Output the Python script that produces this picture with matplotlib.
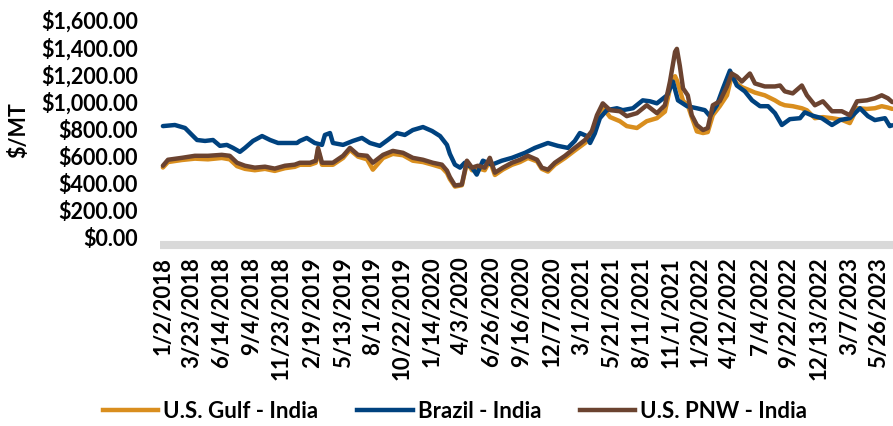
import matplotlib
matplotlib.use("Agg")
import matplotlib.pyplot as plt
import pandas as pd
from matplotlib.lines import Line2D

plt.rcParams["font.family"] = ["Lato", "DejaVu Sans"]
plt.rcParams["font.weight"] = "bold"

# ---------------- data ----------------
series_names = ["U.S. Gulf - India", "Brazil - India", "U.S. PNW - India"]

us_dates = [
    "2018-01-02", "2018-01-16", "2018-02-23", "2018-03-31", "2018-05-06", "2018-06-13",
    "2018-07-05", "2018-07-25", "2018-08-16", "2018-09-12", "2018-10-10", "2018-11-06",
    "2018-12-04", "2018-12-31", "2019-01-14", "2019-02-11", "2019-02-27", "2019-03-05",
    "2019-03-16", "2019-04-15", "2019-05-13", "2019-06-01", "2019-06-23", "2019-07-18",
    "2019-08-03", "2019-08-31", "2019-09-27", "2019-10-25", "2019-11-21", "2019-12-19",
    "2020-01-15", "2020-02-09", "2020-02-23", "2020-03-02", "2020-03-16", "2020-04-04",
    "2020-04-18", "2020-05-02", "2020-05-18", "2020-06-06", "2020-06-20", "2020-07-04",
    "2020-07-26", "2020-08-20", "2020-09-11", "2020-10-03", "2020-10-28", "2020-11-10",
    "2020-11-27", "2020-12-16", "2021-01-13", "2021-02-09", "2021-03-09", "2021-03-28",
    "2021-04-11", "2021-04-27", "2021-05-17", "2021-06-13", "2021-07-02", "2021-07-30",
    "2021-08-26", "2021-09-23", "2021-10-15", "2021-10-29", "2021-11-12", "2021-11-17",
    "2021-11-25", "2021-12-04", "2021-12-17", "2021-12-28", "2022-01-11", "2022-01-28",
    "2022-02-10", "2022-02-24", "2022-03-15", "2022-04-04", "2022-04-17", "2022-05-01",
    "2022-05-15", "2022-06-06", "2022-06-20", "2022-07-17", "2022-08-14", "2022-08-28",
    "2022-09-10", "2022-10-02", "2022-10-27", "2022-11-10", "2022-12-02", "2022-12-24",
    "2023-01-18", "2023-02-14", "2023-03-08", "2023-03-28", "2023-04-24", "2023-05-16",
    "2023-06-04", "2023-06-21", "2023-07-03",
]

pnw_values = [
    523, 567, 581, 596, 596, 603, 596, 545, 523, 509, 516, 502,
    523, 531, 545, 545, 560, 654, 545, 545, 596, 654, 603, 596,
    545, 603, 632, 618, 581, 567, 545, 531, 487, 440, 378, 385,
    560, 509, 523, 509, 581, 472, 509, 545, 567, 596, 567, 509,
    494, 545, 596, 654, 712, 778, 894, 981, 931, 923, 887, 909,
    967, 909, 967, 1141, 1359, 1381, 1258, 1091, 1040, 894, 822, 785,
    800, 967, 996, 1105, 1200, 1178, 1141, 1200, 1127, 1105, 1105, 1112,
    1069, 1054, 1112, 1040, 967, 996, 923, 923, 894, 996, 1003, 1018,
    1040, 1018, 990,
]

gulf_values = [
    510, 550, 565, 575, 570, 580, 570, 520, 500, 490, 500, 485,
    505, 515, 530, 530, 545, 640, 530, 530, 580, 640, 590, 570,
    494, 580, 610, 600, 560, 550, 530, 510, 470, 425, 370, 380,
    545, 490, 505, 490, 560, 455, 495, 530, 550, 580, 555, 500,
    480, 530, 580, 635, 690, 740, 860, 950, 880, 850, 814, 800,
    850, 872, 920, 1091, 1180, 1150, 1080, 1000, 967, 880, 775, 763,
    770, 894, 960, 1040, 1185, 1127, 1100, 1076, 1060, 1040, 1003, 980,
    967, 960, 945, 930, 872, 880, 872, 860, 836, 945, 940, 945,
    960, 950, 940,
]

brazil_dates = [
    "2018-01-02", "2018-02-04", "2018-03-04", "2018-03-23", "2018-04-06", "2018-04-28",
    "2018-05-20", "2018-06-08", "2018-06-27", "2018-07-14", "2018-08-02", "2018-08-16",
    "2018-09-07", "2018-10-02", "2018-10-24", "2018-11-15", "2018-12-12", "2019-01-06",
    "2019-01-14", "2019-02-02", "2019-02-24", "2019-03-16", "2019-03-24", "2019-04-07",
    "2019-04-15", "2019-05-13", "2019-06-09", "2019-07-04", "2019-07-26", "2019-08-22",
    "2019-09-13", "2019-10-08", "2019-10-30", "2019-11-21", "2019-12-19", "2020-01-13",
    "2020-02-04", "2020-02-23", "2020-03-02", "2020-03-16", "2020-03-30", "2020-04-12",
    "2020-05-02", "2020-05-15", "2020-06-01", "2020-06-26", "2020-07-23", "2020-08-20",
    "2020-09-25", "2020-10-22", "2020-11-27", "2020-12-24", "2021-01-21", "2021-02-09",
    "2021-02-23", "2021-03-14", "2021-03-23", "2021-04-05", "2021-04-19", "2021-05-08",
    "2021-06-05", "2021-06-21", "2021-07-19", "2021-08-15", "2021-09-04", "2021-09-23",
    "2021-10-21", "2021-11-06", "2021-11-20", "2021-12-15", "2022-01-11", "2022-02-02",
    "2022-02-16", "2022-03-07", "2022-03-24", "2022-04-12", "2022-05-01", "2022-05-23",
    "2022-06-12", "2022-07-04", "2022-07-26", "2022-08-14", "2022-09-02", "2022-09-24",
    "2022-10-22", "2022-11-04", "2022-11-26", "2022-12-21", "2023-01-18", "2023-02-09",
    "2023-03-08", "2023-04-05", "2023-04-27", "2023-05-16", "2023-06-13", "2023-06-26",
    "2023-07-03",
]

brazil_values = [
    814, 822, 800, 749, 712, 705, 712, 669, 676, 654, 625, 654,
    705, 741, 712, 690, 690, 690, 705, 727, 690, 676, 749, 763,
    690, 676, 705, 727, 690, 669, 712, 763, 749, 785, 807, 778,
    741, 676, 610, 531, 509, 545, 509, 458, 560, 531, 560, 581,
    618, 654, 690, 669, 654, 705, 763, 741, 690, 760, 872, 931,
    945, 931, 945, 1003, 996, 981, 1040, 1141, 1003, 960, 945, 931,
    887, 967, 1091, 1221, 1112, 1069, 1003, 960, 960, 909, 822, 865,
    872, 915, 890, 872, 822, 858, 872, 945, 887, 858, 872, 814,
    820,
]

tick_dates = [
    "2018-01-02", "2018-03-23", "2018-06-14", "2018-09-04", "2018-11-23", "2019-02-19",
    "2019-05-13", "2019-08-01", "2019-10-22", "2020-01-14", "2020-04-03", "2020-06-26",
    "2020-09-16", "2020-12-07", "2021-03-01", "2021-05-21", "2021-08-11", "2021-11-01",
    "2022-01-20", "2022-04-12", "2022-07-04", "2022-09-22", "2022-12-13", "2023-03-07",
    "2023-05-26",
]
tick_labels = [
    "1/2/2018", "3/23/2018", "6/14/2018", "9/4/2018", "11/23/2018", "2/19/2019",
    "5/13/2019", "8/1/2019", "10/22/2019", "1/14/2020", "4/3/2020", "6/26/2020",
    "9/16/2020", "12/7/2020", "3/1/2021", "5/21/2021", "8/11/2021", "11/1/2021",
    "1/20/2022", "4/12/2022", "7/4/2022", "9/22/2022", "12/13/2022", "3/7/2023",
    "5/26/2023",
]
y_ticks = [0, 200, 400, 600, 800, 1000, 1200, 1400, 1600]

# ---------------- style ----------------
GOLD = "#D98E1E"
BLUE = "#00427F"
BROWN = "#6B4330"
FS_Y = 15.5
FS_X = 16
FS_LEG = 16
LW = 3.2

W, H = 893, 427
fig = plt.figure(figsize=(W / 100, H / 100), dpi=100)
ax = fig.add_axes([160 / W, (H - 238) / H, 1 - 160 / W, 218 / H])

us_x = pd.to_datetime(us_dates)
br_x = pd.to_datetime(brazil_dates)
kw = dict(lw=LW, solid_joinstyle="round", solid_capstyle="round")
ax.plot(us_x, gulf_values, color=GOLD, **kw)
ax.plot(br_x, brazil_values, color=BLUE, **kw)
ax.plot(us_x, pnw_values, color=BROWN, **kw)

ax.set_ylim(0, 1600)
ax.set_yticks(y_ticks)
ax.set_yticklabels([f"${v:,.2f}" for v in y_ticks])
ax.set_xlim(pd.Timestamp("2017-12-25"), pd.Timestamp("2023-07-05"))
ax.set_xticks(pd.to_datetime(tick_dates))
ax.set_xticklabels(tick_labels)
ax.tick_params(axis="both", length=0, colors="black")
ax.tick_params(axis="y", pad=16, labelsize=FS_Y)
ax.tick_params(axis="x", pad=8, labelrotation=90, labelsize=FS_X)
for lab in ax.get_xticklabels():
    lab.set_fontweight("bold")
    lab.set_verticalalignment("top")
    lab.set_horizontalalignment("center")
for lab in ax.get_yticklabels():
    lab.set_fontweight("bold")

for s in ["top", "right", "left"]:
    ax.spines[s].set_visible(False)
ax.spines["bottom"].set_color("#D9D9D9")
ax.spines["bottom"].set_linewidth(5.8)
ax.spines["bottom"].set_position(("outward", 5.5))
ax.spines["bottom"].set_capstyle("butt")

fig.text(19 / W, 1 - 130 / H, "$/MT", rotation=90, ha="center", va="center",
         fontsize=FS_Y, fontweight="bold")

handles = [Line2D([], [], color=c, lw=LW) for c in (GOLD, BLUE, BROWN)]
fig.legend(handles, series_names, loc="center", bbox_to_anchor=(455 / W, 1 - 412 / H),
           ncol=3, frameon=False, handlelength=2.5, handletextpad=0.22,
           columnspacing=1.75, prop={"size": FS_LEG, "weight": "bold"})

fig.savefig("out.png", dpi=100)
